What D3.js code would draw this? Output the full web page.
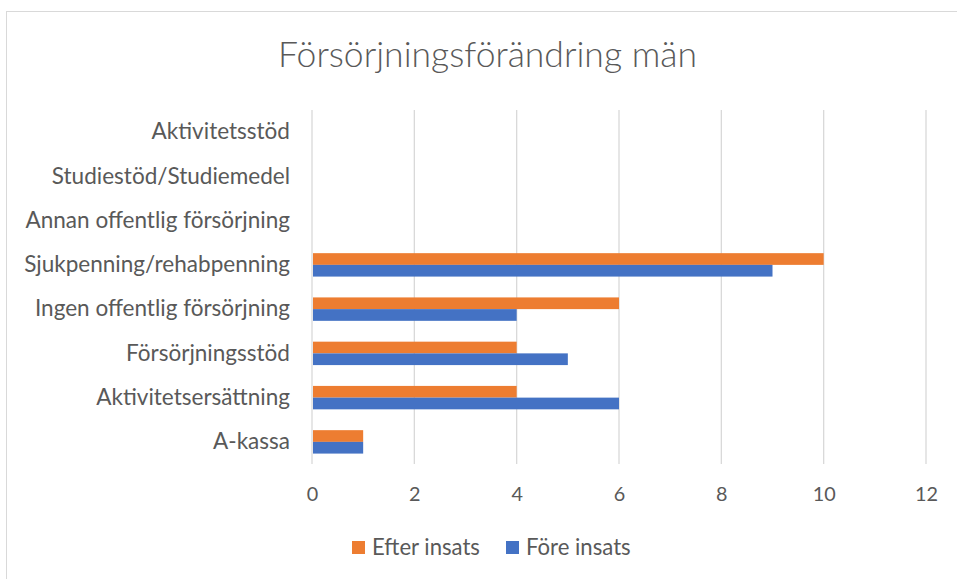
<!DOCTYPE html>
<html><head><meta charset="utf-8">
<script src="https://cdn.jsdelivr.net/npm/d3@7"></script>
<style>
html,body{margin:0;padding:0;background:#fff;}
svg{display:block;font-family:Lato,"Open Sans",sans-serif;}
</style></head>
<body><svg id="c" width="957" height="579"></svg>
<script>
const categories = ["Aktivitetsstöd","Studiestöd/Studiemedel","Annan offentlig försörjning","Sjukpenning/rehabpenning","Ingen offentlig försörjning","Försörjningsstöd","Aktivitetsersättning","A-kassa"];
const efterInsats = [0,0,0,10,6,4,4,1];
const foreInsats = [0,0,0,9,4,5,6,1];
const seriesNames = ["Efter insats","Före insats"];
const seriesColors = ["#ED7D31","#4472C4"];
const xTicks = [0,2,4,6,8,10,12];
const title = "Försörjningsförändring män";

const svg = d3.select("#c");
// font size that makes a sample string reach a target width
function fitSize(txt, target, weight){
  const t = svg.append("text").style("font-size","20px").style("font-weight",weight||400).text(txt);
  const w = t.node().getComputedTextLength();
  t.remove();
  return 20*target/w;
}
const labelSize = fitSize("Sjukpenning/rehabpenning", 266);
const tickSize = fitSize("10", 23);
const titleSize = fitSize(title, 419, 300);
const legendSize = fitSize("Efter insats", 108);

svg.append("rect").attr("x",6.5).attr("y",11.5).attr("width",1000).attr("height",1000)
  .attr("fill","none").attr("stroke","#d9d9d9").attr("stroke-width",1);

const x = d3.scaleLinear().domain([0,12]).range([312,926]);
const y = d3.scaleBand().domain(categories).range([110,464]);
const inner = d3.scaleBand().domain(seriesNames).range([0,y.bandwidth()]).paddingInner(0).paddingOuter(0.89);

svg.append("g").selectAll("line").data(xTicks).join("line")
  .attr("x1",d=>x(d)).attr("x2",d=>x(d)).attr("y1",110).attr("y2",464)
  .attr("stroke","#d9d9d9").attr("stroke-width",1.3);

[efterInsats, foreInsats].forEach((vals,si)=>{
  svg.append("g").selectAll("rect").data(vals).join("rect")
    .attr("x",x(0)+1)
    .attr("y",(d,i)=>y(categories[i])+inner(seriesNames[si]))
    .attr("width",d=>Math.max(0,x(d)-x(0)-1))
    .attr("height",inner.bandwidth())
    .attr("fill",seriesColors[si]);
});

const gx = svg.append("g").attr("transform","translate(0,487)")
  .call(d3.axisBottom(x).tickValues(xTicks).tickSize(0).tickPadding(0));
gx.select(".domain").remove();
gx.selectAll("text").attr("fill","#595959").style("font-size",tickSize+"px").style("font-family","Lato,'Open Sans',sans-serif");

const gy = svg.append("g").attr("transform","translate(290,0)")
  .call(d3.axisLeft(y).tickSize(0).tickPadding(0));
gy.select(".domain").remove();
gy.selectAll("text").attr("fill","#595959").style("font-size",labelSize+"px").style("font-family","Lato,'Open Sans',sans-serif");

svg.append("text").attr("x",487.5).attr("y",67).attr("text-anchor","middle")
  .attr("fill","#595959").style("font-size",titleSize+"px").style("font-weight","300").text(title);

const legendX = [352,506];
seriesNames.forEach((n,i)=>{
  svg.append("rect").attr("x",legendX[i]).attr("y",541).attr("width",13).attr("height",13).attr("fill",seriesColors[i]);
  svg.append("text").attr("x",legendX[i]+20).attr("y",555).attr("fill","#595959").style("font-size",legendSize+"px").text(n);
});
</script></body></html>
